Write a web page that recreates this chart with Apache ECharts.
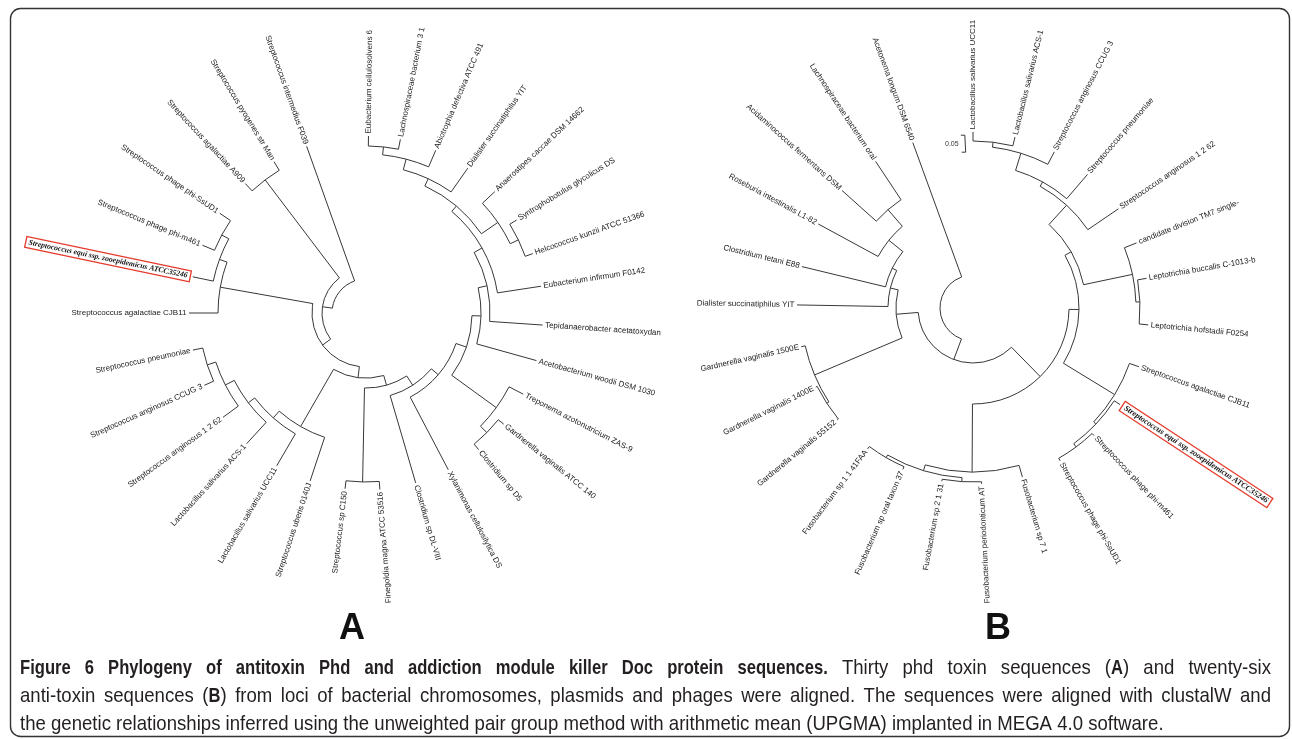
<!DOCTYPE html>
<html>
<head>
<meta charset="utf-8">
<title>Figure 6</title>
<script src="https://cdn.jsdelivr.net/npm/echarts@6/dist/echarts.min.js"></script>
<style>
  html, body { margin: 0; padding: 0; background: #fff; }
  #chart { width: 1292px; height: 739px; }
</style>
</head>
<body>
<div id="chart"></div>
<script>
// ---- tree A (phd toxin), leaves clockwise from the top, angle in degrees ----
const leafNamesA = [
  'Eubacterium cellulosolvens 6', 'Lachnospiraceae bacterium 3 1', 'Abiotrophia defectiva ATCC 491',
  'Dialister succinatiphilus YIT', 'Anaerostipes caccae DSM 14662', 'Syntrophobotulus glycolicus DS',
  'Helcococcus kunzii ATCC 51366', 'Eubacterium infirmum F0142', 'Tepidanaerobacter acetatoxydan',
  'Acetobacterium woodii DSM 1030', 'Treponema azotonutricium ZAS-9', 'Gardnerella vaginalis ATCC 140',
  'Clostridium sp D5', 'Xylanimonas cellulosilytica DS', 'Clostridium sp DL-VIII',
  'Finegoldia magna ATCC 53516', 'Streptococcus sp C150', 'Streptococcus uberis 0140J',
  'Lactobacillus salivarius UCC11', 'Lactobacillus salivarius ACS-1', 'Streptococcus anginosus 1 2 62',
  'Streptococcus anginosus CCUG 3', 'Streptococcus pneumoniae', 'Streptococcus agalactiae CJB11',
  'Streptococcus equi ssp. zooepidemicus ATCC35246', 'Streptococcus phage phi-m461', 'Streptococcus phage phi-SsUD1',
  'Streptococcus agalactiae A909', 'Streptococcus pyogenes str Man', 'Streptococcus intermedius F039'
];
const leafAnglesA = [
  89.2, 78.8, 66.8, 54.9, 43.3, 31.7, 19.6, 8.7, -3.9, -15.6,
  -27.3, -38.9, -50.5, -62.3, -73.7, -85.5, -96.8, -108.4, -120.3, -132.4,
  -143.9, -155.9, -167.9, -180, -191.8, -202.5, -214.3, -227, -238.7, -250.4
];
// internal nodes: [id, node height from centre, child, child]; numbers are leaf indexes
const nodesA = [
  ['A1', 167, 0, 1], ['A2', 159, 'A1', 2], ['A3', 148, 'A2', 3],
  ['SH', 169, 5, 6], ['B1', 160, 4, 'SH'], ['A4', 140, 'A3', 'B1'],
  ['A5', 133, 'A4', 7], ['A6', 124, 'A5', 8], ['A7', 115, 'A6', 9],
  ['GC', 170, 11, 12], ['TN', 161, 10, 'GC'], ['A8', 106, 'A7', 'TN'],
  ['A9', 95, 'A8', 13], ['A10', 86, 'A9', 14], ['CF', 169, 15, 16],
  ['A11', 75, 'A10', 'CF'], ['PC', 167, 21, 22], ['PC2', 158, 20, 'PC'],
  ['PC3', 148, 19, 'PC2'], ['PC4', 140, 18, 'PC3'], ['PC5', 131, 17, 'PC4'],
  ['A12', 65, 'A11', 'PC5'], ['N1', 164, 25, 26], ['N2', 156, 24, 'N1'],
  ['N3', 148, 23, 'N2'], ['U3', 54, 'A12', 'N3'], ['PA', 167, 27, 28],
  ['U4', 44, 'U3', 'PA'], ['root', 34, 'U4', 29]
];

// ---- tree B (anti-toxin) ----
const leafNamesB = [
  'Lactobacillus salivarius UCC11', 'Lactobacillus salivarius ACS-1', 'Streptococcus anginosus CCUG 3',
  'Streptococcus pneumoniae', 'Streptococcus anginosus 1 2 62', 'candidate division TM7 single-',
  'Leptotrichia buccalis C-1013-b', 'Leptotrichia hofstadii F0254', 'Streptococcus agalactiae CJB11',
  'Streptococcus equi ssp. zooepidemicus ATCC35246', 'Streptococcus phage phi-m461', 'Streptococcus phage phi-SsUD1',
  'Fusobacterium sp 7 1', 'Fusobacterium periodonticum AT', 'Fusobacterium sp 2 1 31',
  'Fusobacterium sp oral taxon 37', 'Fusobacterium sp 1 1 41FAA', 'Gardnerella vaginalis 55152',
  'Gardnerella vaginalis 1400E', 'Gardnerella vaginalis 1500E', 'Dialister succinatiphilus YIT',
  'Clostridium tetani E88', 'Roseburia intestinalis L1-82', 'Acidaminococcus fermentans DSM',
  'Lachnospiraceae bacterium oral', 'Acetonema longum DSM 6540'
];
const leafAnglesB = [
  90, 76.2, 62.5, 49.4, 34.3, 21.7, 9.7, -5.5, -19.5, -33.3,
  -46.5, -60.3, -73.7, -87.2, -100.2, -113.5, -126.8, -140.5, -153.3, -167.3,
  -181, -193.6, -208.5, -221.9, -236.4, -250
];
const nodesB = [
  ['Nu', 167, 0, 1], ['Nc', 162, 'Nu', 2], ['Npn', 144, 'Nc', 3],
  ['Nang', 139, 'Npn', 4], ['Lep', 167, 6, 7], ['TM', 163, 5, 'Lep'],
  ['Nup', 113, 'Nang', 'TM'], ['P3', 173, 10, 11], ['P2', 169, 9, 'P3'],
  ['P1', 166, 8, 'P2'], ['Nr', 106, 'Nup', 'P1'], ['Fa', 173, 15, 16],
  ['Fb', 174, 13, 14], ['F2', 170, 'Fb', 'Fa'], ['Fr', 164, 12, 'F2'],
  ['R2', 96, 'Nr', 'Fr'], ['G1', 174.5, 17, 18], ['G2', 172, 'G1', 19],
  ['L1', 130, 23, 24], ['L2', 108, 22, 'L1'], ['L3', 90, 21, 'L2'],
  ['L4', 85, 20, 'L3'], ['L5', 77, 'G2', 'L4'], ['R1', 55, 'R2', 'L5'],
  ['root', 33, 'R1', 25]
];

const highlightName = 'Streptococcus equi ssp. zooepidemicus ATCC35246';
const leafRadiusA = 177;
const leafRadiusB = 176;
const scaleBarB = { text: '0.05', r0: 156, r1: 173, angle: 92.7 };

const captionLines = [
  '{b|Figure 6 Phylogeny of antitoxin Phd and addiction module killer Doc protein sequences.}{n| Thirty phd toxin sequences (}{b|A}{n|) and twenty-six}',
  '{n|anti-toxin sequences (}{b|B}{n|) from loci of bacterial chromosomes, plasmids and phages were aligned. The sequences were aligned with clustalW and}',
  '{n|the genetic relationships inferred using the unweighted pair group method with arithmetic mean (UPGMA) implanted in MEGA 4.0 software.}'
];

// turn the node table into arcs, radial branches and labels
function layoutTree(names, angles, nodes, leafR) {
  const pos = {};
  const look = c => typeof c === 'number' ? { r: leafR, a: angles[c] } : pos[c];
  const items = [];
  nodes.forEach(([id, r, c1, c2]) => {
    const k1 = look(c1), k2 = look(c2);
    pos[id] = { r: r, a: (k1.a + k2.a) / 2 };
    items.push({ kind: 'arc', r: r, a0: k1.a, a1: k2.a });
    items.push({ kind: 'line', r0: r, r1: k1.r, a: k1.a });
    items.push({ kind: 'line', r0: r, r1: k2.r, a: k2.a });
  });
  names.forEach((name, i) => {
    items.push({ kind: 'label', r: leafR + 2.5, a: angles[i], text: name });
  });
  return items;
}

const itemsA = layoutTree(leafNamesA, leafAnglesA, nodesA, leafRadiusA);
const itemsB = layoutTree(leafNamesB, leafAnglesB, nodesB, leafRadiusB);
itemsB.push({ kind: 'scale', r0: scaleBarB.r0, r1: scaleBarB.r1, a: scaleBarB.angle, text: scaleBarB.text });

const lineStyle = { stroke: '#383838', lineWidth: 1, fill: 'none' };

function treeRenderer(items, hlSize) {
  return function (params, api) {
    const it = items[params.dataIndex];
    const c = api.coord([0, 0]);
    if (it.kind === 'line') {
      const p0 = api.coord([it.r0, it.a]), p1 = api.coord([it.r1, it.a]);
      return { type: 'line', silent: true, shape: { x1: p0[0], y1: p0[1], x2: p1[0], y2: p1[1] }, style: lineStyle };
    }
    if (it.kind === 'arc') {
      const p0 = api.coord([it.r, it.a0]), p1 = api.coord([it.r, it.a1]);
      return {
        type: 'arc', silent: true,
        shape: {
          cx: c[0], cy: c[1], r: Math.hypot(p0[0] - c[0], p0[1] - c[1]),
          startAngle: Math.atan2(p0[1] - c[1], p0[0] - c[0]),
          endAngle: Math.atan2(p1[1] - c[1], p1[0] - c[0]),
          clockwise: it.a1 < it.a0
        },
        style: lineStyle
      };
    }
    if (it.kind === 'scale') {
      const p0 = api.coord([it.r0, it.a]), p1 = api.coord([it.r1, it.a]);
      return {
        type: 'group', silent: true, children: [
          { type: 'polyline', shape: { points: [[p0[0] - 4, p0[1]], p0, p1, [p1[0] - 4, p1[1]]] }, style: lineStyle },
          { type: 'text', x: p0[0] - 7, y: (p0[1] + p1[1]) / 2,
            style: { text: it.text, font: '7px "Liberation Sans"', fill: '#333', align: 'right', verticalAlign: 'middle' } }
        ]
      };
    }
    // leaf label
    const p = api.coord([it.r, it.a]);
    const right = it.a > -80;
    const rot = (right ? it.a : it.a + 180) * Math.PI / 180;
    const hl = it.text === highlightName;
    const style = hl ? {
      text: it.text, font: 'italic bold ' + hlSize + 'px "Liberation Serif"', fill: '#111',
      borderColor: '#e53a2b', borderWidth: 1.3, padding: [2, 3, 1, 3],
      align: right ? 'left' : 'right', verticalAlign: 'middle'
    } : {
      text: it.text, font: '8px "Liberation Sans"', fill: '#222',
      align: right ? 'left' : 'right', verticalAlign: 'middle'
    };
    return { type: 'text', silent: true, x: p[0], y: p[1], rotation: rot, style: style };
  };
}

// ---- caption: narrow face, first two lines justified ----
const capFont = '"Liberation Sans", Arial, sans-serif';
const capSize = 21;
const capScale = { b: 0.79, n: 0.885 };
const measureCtx = document.createElement('canvas').getContext('2d');
function capWidth(t, bold) {
  measureCtx.font = (bold ? 'bold ' : '') + capSize + 'px ' + capFont;
  return measureCtx.measureText(t).width * (bold ? capScale.b : capScale.n);
}
function parseRich(line) {
  const words = [[]];
  line.replace(/\{(\w)\|([^}]*)\}/g, (m, k, t) => {
    t.split(/( )/).forEach(part => {
      if (part === ' ') { if (words[words.length - 1].length) words.push([]); }
      else if (part) words[words.length - 1].push({ bold: k === 'b', t: part });
    });
    return m;
  });
  return words.filter(w => w.length);
}
function captionGraphics(lines, x0, x1, y0, lineGap) {
  const out = [];
  const space = capWidth(' ', false);
  lines.forEach((line, li) => {
    const words = parseRich(line);
    const widths = words.map(w => w.reduce((s, r) => s + capWidth(r.t, r.bold), 0));
    const total = widths.reduce((s, w) => s + w, 0);
    const justify = li < lines.length - 1;
    const gap = justify ? (x1 - x0 - total) / (words.length - 1) : space;
    let x = x0;
    words.forEach(w => {
      w.forEach(r => {
        out.push({
          type: 'text', silent: true, x: x, y: y0 + li * lineGap, scaleX: r.bold ? capScale.b : capScale.n,
          style: { text: r.t, font: (r.bold ? 'bold ' : '') + capSize + 'px ' + capFont, fill: '#231f20', verticalAlign: 'middle' }
        });
        x += capWidth(r.t, r.bold);
      });
      x += gap;
    });
  });
  return out;
}

const chart = echarts.init(document.getElementById('chart'));

const hiddenAngle = i => ({
  polarIndex: i, type: 'value', min: -270, max: 90, startAngle: 90, clockwise: false,
  axisLine: { show: false }, axisTick: { show: false }, axisLabel: { show: false }, splitLine: { show: false }
});
const hiddenRadius = i => ({
  polarIndex: i, type: 'value', min: 0, max: 200,
  axisLine: { show: false }, axisTick: { show: false }, axisLabel: { show: false }, splitLine: { show: false }
});

chart.setOption({
  animation: false,
  backgroundColor: '#fff',
  polar: [
    { center: [366, 313], radius: 200 },
    { center: [973, 308], radius: 200 }
  ],
  angleAxis: [hiddenAngle(0), hiddenAngle(1)],
  radiusAxis: [hiddenRadius(0), hiddenRadius(1)],
  series: [
    {
      type: 'custom', coordinateSystem: 'polar', polarIndex: 0,
      renderItem: treeRenderer(itemsA, 7.7),
      data: itemsA.map((it, i) => [it.r ?? it.r0, it.a ?? it.a0, i])
    },
    {
      type: 'custom', coordinateSystem: 'polar', polarIndex: 1,
      renderItem: treeRenderer(itemsB, 8.1),
      data: itemsB.map((it, i) => [it.r ?? it.r0, it.a ?? it.a0, i])
    }
  ],
  graphic: [
    { type: 'rect', silent: true, shape: { x: 10.5, y: 8.5, width: 1279, height: 728, r: 10 },
      style: { fill: 'none', stroke: '#333', lineWidth: 1.4 } },
    { type: 'text', x: 352, y: 629, style: { text: 'A', font: 'bold 36px "Liberation Sans"', fill: '#111', align: 'center', verticalAlign: 'middle' } },
    { type: 'text', x: 998, y: 629, style: { text: 'B', font: 'bold 36px "Liberation Sans"', fill: '#111', align: 'center', verticalAlign: 'middle' } }
  ].concat(captionGraphics(captionLines, 20, 1271, 668, 28))
});
</script>
</body>
</html>
